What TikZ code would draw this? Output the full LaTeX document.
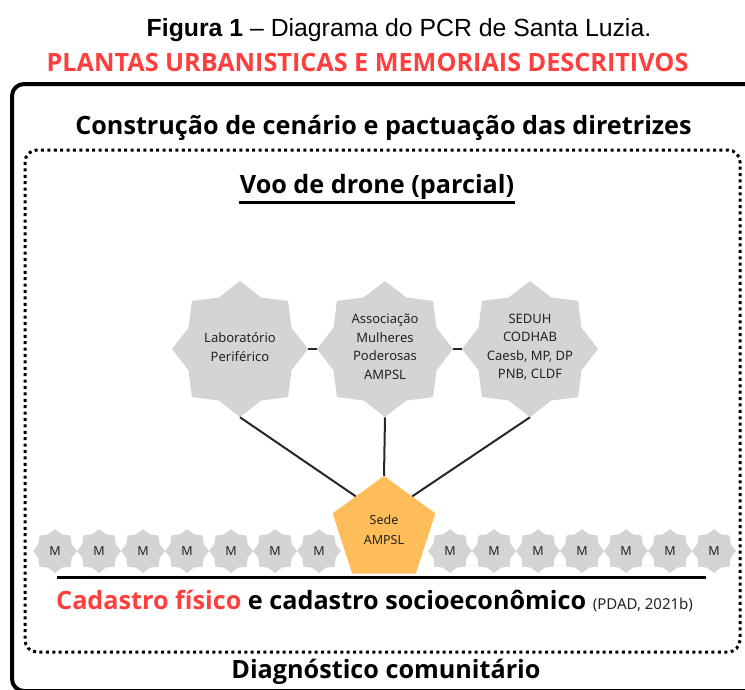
\documentclass[tikz,border=0pt]{standalone}
\usepackage{fontspec}
\setmainfont{Open Sans}
\newfontfamily\capfont{Liberation Sans}
\newfontfamily\shapefont{Noto Sans}
\usetikzlibrary{shapes.geometric}
\definecolor{starfill}{RGB}{212,212,212}
\definecolor{sedefill}{RGB}{255,189,89}
\definecolor{titlered}{RGB}{255,62,62}
\definecolor{shapetext}{RGB}{35,35,35}
\tikzset{
  bigstar/.style={star, star points=8, star point ratio=1.22, fill=starfill,
    minimum size=136pt, inner sep=0pt},
  startext/.style={align=center, text=shapetext, inner sep=0pt,
    font=\shapefont\fontsize{13}{18.5}\selectfont},
  mstar/.style={star, star points=8, star point ratio=1.22, fill=starfill,
    minimum size=44pt, inner sep=0pt, text=shapetext,
    font=\shapefont\fontsize{12.5}{14}\selectfont},
  sedebox/.style={regular polygon, regular polygon sides=5, fill=sedefill,
    minimum size=108pt, inner sep=0pt, align=center, text=shapetext,
    font=\shapefont\fontsize{12.5}{20}\selectfont},
  heading/.style={font=\bfseries\fontsize{25.2}{30}\selectfont},
  link/.style={line width=2pt, draw=black!85},
}
\begin{document}
\begin{tikzpicture}[x=1pt,y=-1pt]
\useasboundingbox (0,0) rectangle (745,689);
\clip (0,0) rectangle (745,689);
% frames
\draw[line width=4pt, rounded corners=12pt] (12,84) rectangle (762,691);
\draw[line width=3pt, dash pattern=on 3pt off 3.4pt, rounded corners=12pt] (25,150) rectangle (740,652);
% titles
\node[font=\capfont\fontsize{24.8}{29}\selectfont] (cap) at (399,30) {\textbf{Figura 1} – Diagrama do PCR de Santa Luzia.};
\node[heading, text=titlered] (plantas) at (367.5,62) {PLANTAS URBANISTICAS E MEMORIAIS DESCRITIVOS};
\node[heading] (constr) at (383.5,128) {Construção de cenário e pactuação das diretrizes};
\node[heading, inner sep=1pt] (voo) at (377,187) {Voo de drone (parcial)};
\draw[line width=3pt] ([yshift=-2pt]voo.south west) -- ([yshift=-2pt]voo.south east);
% stars
\node[bigstar] (lab) at (240,349) {};
\node[bigstar] (assoc) at (385,349) {};
\node[bigstar] (seduh) at (530,349) {};
\node[startext] (labt) at ([yshift=2pt]lab.center) {Laboratório\\Periférico};
\node[startext] (assoct) at ([yshift=2pt]assoc.center) {Associação\\Mulheres\\Poderosas\\AMPSL};
\node[startext] (seduht) at ([yshift=2pt]seduh.center) {SEDUH\\CODHAB\\Caesb, MP, DP\\PNB, CLDF};
\node[sedebox] (sede) at (384,530) {Sede\\AMPSL};
\draw[link] (lab.east) -- (assoc.west);
\draw[link] (assoc.east) -- (seduh.west);
\draw[link] (lab.south) -- (sede.130);
\draw[link] (assoc.south) -- (sede.90);
\draw[link] (seduh.south) -- (sede.50);
% M row
\foreach \i/\x in {1/55,2/99,3/143,4/187,5/231,6/275,7/319,8/450,9/494,10/538,11/582,12/626,13/670,14/714}
  \node[mstar] (m\i) at (\x,551) {M};
% base line
\coordinate (bl) at (57,577);
\coordinate (br) at (706,577);
\draw[line width=3pt] (bl) -- (br);
\node[heading, anchor=base west, inner sep=0pt] (cad) at (56,609)
  {\textcolor{titlered}{Cadastro físico} e cadastro socioeconômico {\shapefont\mdseries\fontsize{15}{17}\selectfont\color{shapetext}(PDAD, 2021b)}};
\node[heading] (diag) at (386,672) {Diagnóstico comunitário};
\end{tikzpicture}
\end{document}
